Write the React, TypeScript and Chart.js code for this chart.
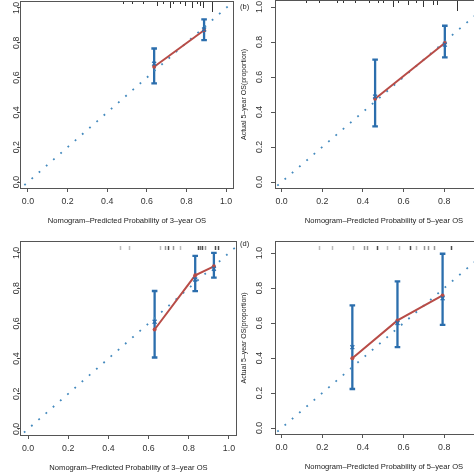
import React, { useEffect, useRef } from "react";
import { Chart, registerables } from "chart.js";
Chart.register(...registerables);

// ---------- data ----------
const tickValues = [0, 0.2, 0.4, 0.6, 0.8, 1.0];
const tickLabels = ["0.0", "0.2", "0.4", "0.6", "0.8", "1.0"];

// (a) 3-year OS, training
const aPred = [0.637, 0.889];
const aObs = [0.662, 0.872];
const aLo = [0.567, 0.815];
const aHi = [0.767, 0.935];
const aCorr = [0.68, 0.876];
const aRugX = [0.481, 0.524, 0.582, 0.649, 0.683, 0.716, 0.733, 0.767, 0.792, 0.826, 0.851, 0.868, 0.884, 0.93];
const aRugN = [1, 1, 1, 2, 1, 3, 1, 1, 2, 3, 1, 2, 3, 5];

// (b) 5-year OS, training
const bPred = [0.46, 0.803];
const bObs = [0.476, 0.794];
const bLo = [0.318, 0.712];
const bHi = [0.699, 0.893];
const bCorr = [0.488, 0.785];
const bRugX = [0.122, 0.184, 0.273, 0.302, 0.363, 0.43, 0.476, 0.501, 0.55, 0.575, 0.624, 0.659, 0.698, 0.746, 0.766, 0.865];
const bRugN = [1, 1, 1, 1, 1, 1, 1, 1, 3, 1, 2, 1, 3, 2, 2, 5];

// (c) 3-year OS, validation
const cPred = [0.63, 0.832, 0.925];
const cObs = [0.565, 0.873, 0.924];
const cLo = [0.406, 0.783, 0.86];
const cHi = [0.784, 0.983, 1.0];
const cCorr = [0.609, 0.849, 0.91];
const cRugX = [0.46, 0.504, 0.658, 0.683, 0.696, 0.723, 0.758, 0.847, 0.857, 0.867, 0.882, 0.932, 0.947];
const cRugN = [1, 1, 1, 2, 4, 2, 1, 4, 3, 4, 2, 4, 4];

// (d) 5-year OS, validation
const dPred = [0.348, 0.57, 0.792];
const dObs = [0.399, 0.615, 0.758];
const dLo = [0.223, 0.462, 0.59];
const dHi = [0.701, 0.838, 0.996];
const dCorr = [0.462, 0.6, 0.742];
const dRugX = [0.184, 0.25, 0.35, 0.405, 0.42, 0.471, 0.52, 0.578, 0.633, 0.66, 0.7, 0.72, 0.75, 0.833];
const dRugN = [1, 1, 1, 2, 2, 4, 1, 1, 4, 1, 2, 2, 2, 4];

const xTitle3 = "Nomogram\u2013Predicted Probability of 3\u2013year OS";
const xTitle5 = "Nomogram\u2013Predicted Probability of 5\u2013year OS";
const yTitle3 = "Actual 3\u2013year OS(proportion)";
const yTitle5 = "Actual 5\u2013year OS(proportion)";

// ---------- styles ----------
const BLUE = "#2b6ead";
const RED = "#b84c47";
const DIAG = "#4389bd";
const FRAME = "#555555";
const FONT = "'Liberation Sans', Arial, Helvetica, sans-serif";

type Panel = {
  pred: number[]; obs: number[]; lo: number[]; hi: number[]; corr: number[];
  rugX: number[]; rugN: number[]; rugKind: "spike" | "tick";
  xTitle: string; yTitle: string; label: string; labelDy: number;
  box: [number, number, number, number]; // left, top, right, bottom
  xr: [number, number]; yr: [number, number];
  yTickPad: number; yTickLen: number;
};

const panels: Panel[] = [
  { pred: aPred, obs: aObs, lo: aLo, hi: aHi, corr: aCorr, rugX: aRugX, rugN: aRugN, rugKind: "spike",
    xTitle: xTitle3, yTitle: yTitle3, label: "(a)", labelDy: 7,
    box: [20, 1, 234, 189], xr: [-0.04, 1.04], yr: [-0.04, 1.04], yTickPad: -5.3, yTickLen: 3 },
  { pred: bPred, obs: bObs, lo: bLo, hi: bHi, corr: bCorr, rugX: bRugX, rugN: bRugN, rugKind: "spike",
    xTitle: xTitle5, yTitle: yTitle5, label: "(b)", labelDy: 7,
    box: [275, 0, 493, 189], xr: [-0.0325, 1.04], yr: [-0.04, 1.04], yTickPad: 5.2, yTickLen: 4 },
  { pred: cPred, obs: cObs, lo: cLo, hi: cHi, corr: cCorr, rugX: cRugX, rugN: cRugN, rugKind: "tick",
    xTitle: xTitle3, yTitle: yTitle3, label: "(c)", labelDy: 3,
    box: [20, 241, 237, 436], xr: [-0.04, 1.04], yr: [-0.04, 1.068], yTickPad: -5.3, yTickLen: 3 },
  { pred: dPred, obs: dObs, lo: dLo, hi: dHi, corr: dCorr, rugX: dRugX, rugN: dRugN, rugKind: "tick",
    xTitle: xTitle5, yTitle: yTitle5, label: "(d)", labelDy: 3,
    box: [275, 241, 493, 435], xr: [-0.0325, 1.04], yr: [-0.04, 1.069], yTickPad: 5.2, yTickLen: 4 },
];

const PAD_L = 60, PAD_T = 20, PAD_R = 10, PAD_B = 50;

function makePlugin(p: Panel) {
  return {
    id: "panelDecor",
    beforeDatasetsDraw(chart: any) {
      const { ctx, scales } = chart;
      const x = scales.x, y = scales.y;
      ctx.save();
      ctx.strokeStyle = BLUE;
      ctx.lineWidth = 2.3;
      ctx.lineCap = "butt";
      p.pred.forEach((v, i) => {
        const px = x.getPixelForValue(v);
        const y1 = y.getPixelForValue(p.lo[i]);
        const y2 = y.getPixelForValue(p.hi[i]);
        ctx.beginPath();
        ctx.moveTo(px, y1); ctx.lineTo(px, y2);
        ctx.moveTo(px - 2.8, y1); ctx.lineTo(px + 2.8, y1);
        ctx.moveTo(px - 2.8, y2); ctx.lineTo(px + 2.8, y2);
        ctx.stroke();
      });
      ctx.restore();
    },
    afterDraw(chart: any) {
      const { ctx, chartArea, scales } = chart;
      const x = scales.x;
      ctx.save();
      // rug / spike histogram at top
      p.rugX.forEach((v, i) => {
        const px = Math.round(x.getPixelForValue(v)) + 0.5;
        const n = p.rugN[i];
        ctx.beginPath();
        if (p.rugKind === "spike") {
          ctx.strokeStyle = "#333";
          ctx.lineWidth = 1;
          ctx.moveTo(px, chartArea.top);
          ctx.lineTo(px, chartArea.top + 1 + n * 2);
        } else {
          ctx.strokeStyle = `rgba(50,50,50,${0.15 + n * 0.18})`;
          ctx.lineWidth = 1.5;
          ctx.moveTo(px, chartArea.top + 5);
          ctx.lineTo(px, chartArea.top + 9);
        }
        ctx.stroke();
      });
      // frame
      ctx.strokeStyle = FRAME;
      ctx.lineWidth = 1;
      ctx.strokeRect(chartArea.left + 0.5, chartArea.top + 0.5,
        chartArea.right - chartArea.left - 1, chartArea.bottom - chartArea.top - 1);
      // panel label
      ctx.fillStyle = "#222";
      ctx.font = `7.5px ${FONT}`;
      ctx.textBaseline = "middle";
      ctx.textAlign = "left";
      ctx.fillText(p.label, chartArea.left - 35, chartArea.top + p.labelDy);
      ctx.restore();
    },
  };
}

function PanelChart({ p }: { p: Panel }) {
  const ref = useRef<HTMLCanvasElement>(null);
  const [bl, bt, br, bb] = p.box;
  const W = br - bl + PAD_L + PAD_R;
  const H = bb - bt + PAD_T + PAD_B;
  useEffect(() => {
    const canvas = ref.current!;
    const chart = new Chart(canvas, {
      type: "scatter",
      data: {
        datasets: [
          {
            type: "line",
            data: [{ x: -0.2, y: -0.2 }, { x: 1.3, y: 1.3 }],
            borderColor: DIAG, borderWidth: 1.8, borderDash: [1.8, 7.8],
            pointRadius: 0, clip: 0, order: 3,
          } as any,
          {
            type: "line",
            data: p.pred.map((v, i) => ({ x: v, y: p.obs[i] })),
            borderColor: RED, borderWidth: 2, pointRadius: 2,
            pointBackgroundColor: RED, pointBorderColor: RED, pointBorderWidth: 0,
            clip: false, order: 2,
          } as any,
          {
            type: "scatter",
            data: p.pred.map((v, i) => ({ x: v, y: p.corr[i] })),
            pointStyle: "crossRot", pointRadius: 2.8, borderColor: BLUE, borderWidth: 1.3,
            clip: false, order: 1,
          } as any,
        ],
      },
      options: {
        animation: false,
        responsive: false,
        devicePixelRatio: 1,
        events: [],
        layout: { padding: { left: 0, top: PAD_T, right: PAD_R, bottom: 0 } },
        plugins: { legend: { display: false }, tooltip: { enabled: false } },
        scales: {
          x: {
            type: "linear", min: p.xr[0], max: p.xr[1], bounds: "data",
            afterFit: (s: any) => { s.height = PAD_B; },
            afterBuildTicks: (s: any) => { s.ticks = tickValues.map((v) => ({ value: v })); },
            ticks: {
              autoSkip: false, maxRotation: 0, minRotation: 0, padding: 4.4,
              color: "#333", font: { family: FONT, size: 8.8 },
              callback: (v: any) => tickLabels[tickValues.findIndex((t) => Math.abs(t - v) < 1e-6)],
            },
            grid: { drawOnChartArea: false, drawTicks: true, tickLength: 3, color: FRAME, lineWidth: 1 },
            border: { display: false },
            title: {
              display: true, text: p.xTitle, color: "#222",
              font: { family: FONT, size: 7.6 }, padding: { top: 0, bottom: 13.9 },
            },
          },
          y: {
            type: "linear", min: p.yr[0], max: p.yr[1], bounds: "data",
            afterFit: (s: any) => { s.width = PAD_L; },
            afterBuildTicks: (s: any) => { s.ticks = tickValues.map((v) => ({ value: v })); },
            ticks: {
              autoSkip: false, minRotation: 90, maxRotation: 90, crossAlign: "center",
              padding: p.yTickPad, color: "#333", font: { family: FONT, size: 8.8 },
              callback: (v: any) => tickLabels[tickValues.findIndex((t) => Math.abs(t - v) < 1e-6)],
            },
            grid: { drawOnChartArea: false, drawTicks: true, tickLength: p.yTickLen, color: FRAME, lineWidth: 1 },
            border: { display: false },
            title: {
              display: true, text: p.yTitle, color: "#222",
              font: { family: FONT, size: 7 }, padding: { top: 24.8, bottom: 0 },
            },
          },
        },
      } as any,
      plugins: [makePlugin(p)],
    });
    return () => chart.destroy();
  }, []);
  return (
    <canvas
      ref={ref}
      width={W}
      height={H}
      style={{ position: "absolute", left: bl - PAD_L, top: bt - PAD_T, width: W, height: H }}
    />
  );
}

export default function App() {
  return (
    <div style={{ position: "absolute", left: 0, top: 0, width: 474, height: 474, overflow: "hidden", background: "#fff" }}>
      {panels.map((p, i) => <PanelChart key={i} p={p} />)}
    </div>
  );
}
